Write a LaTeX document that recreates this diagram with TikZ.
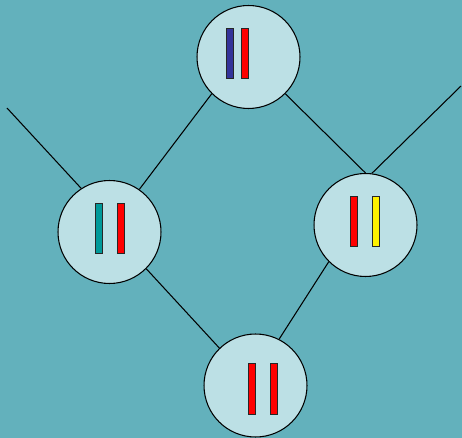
\documentclass[tikz,border=0pt]{standalone}
\definecolor{bgteal}{RGB}{99,177,188}
\definecolor{cellfill}{RGB}{188,224,229}
\definecolor{chromblue}{RGB}{51,51,153}
\definecolor{chromteal}{RGB}{0,153,153}
\begin{document}
\begin{tikzpicture}[x=0.02cm,y=-0.02cm,
    cell/.style={circle,draw,line width=0.6pt,fill=cellfill,minimum size=2.06cm,inner sep=0pt},
    chrom/.style={draw=black!85,line width=0.6pt,minimum width=0.15cm,minimum height=1.01cm,inner sep=0pt},
    link/.style={line width=0.6pt}]
  \fill[bgteal] (0,0) rectangle (462,438);
  \useasboundingbox (0,0) rectangle (462,438);
  % cells
  \node[cell] (Top) at (248.5,57) {};
  \node[cell] (Left) at (109.5,232) {};
  \node[cell] (Right) at (365.5,225) {};
  \node[cell] (Bottom) at (255.5,385.5) {};
  \coordinate (LeftEnd) at (7,108);
  \coordinate (RightEnd) at (461,86);
  % connections
  \draw[link] (Top.225) -- (Left.55);
  \draw[link] (Top.315) -- (Right.90);
  \draw[link] (Left.123) -- (LeftEnd);
  \draw[link] (Right.83) -- (RightEnd);
  \draw[link] (Left.315) -- (Bottom.134);
  \draw[link] (Right.225) -- (Bottom.63);
  % chromosomes
  \node[chrom,fill=chromblue] (TopA) at (230,53.5) {};
  \node[chrom,fill=red] (TopB) at (245,53.5) {};
  \node[chrom,fill=chromteal] (LeftA) at (99,228.5) {};
  \node[chrom,fill=red] (LeftB) at (121,228.5) {};
  \node[chrom,fill=red] (RightA) at (354,221.5) {};
  \node[chrom,fill=yellow] (RightB) at (376,221.5) {};
  \node[chrom,fill=red] (BottomA) at (252,389) {};
  \node[chrom,fill=red] (BottomB) at (274,389) {};
\end{tikzpicture}
\end{document}
